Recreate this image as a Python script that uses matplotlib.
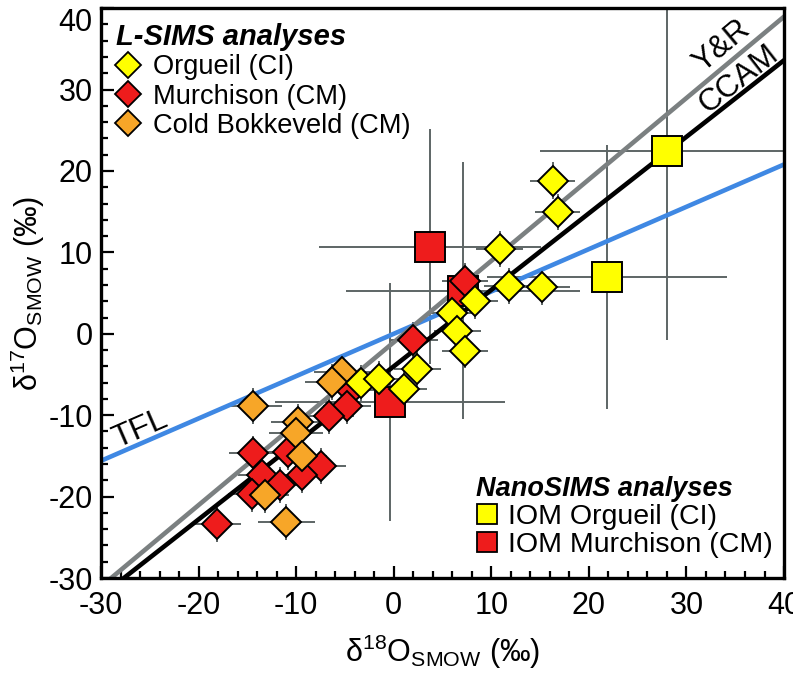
import matplotlib
matplotlib.use("Agg")
import matplotlib.pyplot as plt
from matplotlib.lines import Line2D
from matplotlib.ticker import MultipleLocator
import numpy as np

# ---- L-SIMS analyses (d18O, d17O, 1 sigma) ----
murch_x = [7.3, 2.0, -4.4, -4.8, -6.6, -14.4, -10.8, -7.5, -9.4, -13.5, -11.7, -14.5, -18.1]
murch_y = [6.5, -0.8, -6.9, -8.9, -10.1, -14.7, -14.5, -16.2, -17.4, -17.4, -18.6, -19.7, -23.4]
murch_xerr = [2.4, 2.5, 2.5, 2.5, 2.5, 2.5, 2.5, 2.6, 2.5, 2.5, 2.5, 2.5, 2.4]
murch_yerr = [2.2, 2.2, 2.2, 2.2, 2.2, 2.2, 2.2, 2.2, 2.2, 2.2, 2.2, 2.2, 2.2]

cold_x = [-5.3, -6.3, -14.4, -9.8, -10.0, -9.4, -13.2, -11.0]
cold_y = [-4.7, -5.9, -8.9, -10.8, -12.2, -15.0, -19.8, -23.1]
cold_xerr = [2.9, 2.8, 2.9, 2.8, 2.8, 2.6, 2.5, 2.9]
cold_yerr = [2.2, 2.2, 2.2, 2.2, 2.2, 2.2, 2.2, 2.2]

org_x = [16.3, 16.8, 10.85, 11.8, 15.2, 6.0, 8.3, 6.5, 7.3, 2.4, -3.4, -1.56, 1.0]
org_y = [18.8, 15.0, 10.4, 5.9, 5.7, 2.6, 4.0, 0.4, -2.06, -4.3, -6.0, -5.5, -6.75]
org_xerr = [2.3, 2.3, 2.4, 2.5, 2.9, 2.4, 2.4, 2.4, 2.4, 2.4, 2.4, 2.4, 2.4]
org_yerr = [2.25, 2.2, 2.2, 2.2, 2.2, 2.2, 2.2, 2.2, 2.2, 2.2, 2.2, 2.2, 2.2]

# ---- NanoSIMS analyses of IOM ----
iom_org_x = [28.0, 21.9]
iom_org_y = [22.4, 7.0]
iom_org_xerr = [13.0, 12.3]
iom_org_yerr = [23.2, 16.2]

iom_mur_x = [3.7, 7.1, -0.4]
iom_mur_y = [10.7, 5.3, -8.4]
iom_mur_xerr = [11.4, 12.0, 11.8]
iom_mur_yerr = [14.4, 15.8, 14.6]

# reference lines: slope, intercept
yr_line = (1.00, -1.04)
ccam_line = (0.94, -4.0)
tfl_line = (0.52, 0.0)

yellow = '#ffff00'
red = '#ee1c1c'
orange = '#f7a628'
bar_col = '#5d6565'

plt.rcParams['font.family'] = ['Liberation Sans', 'DejaVu Sans']
plt.rcParams['axes.unicode_minus'] = False
plt.rcParams['mathtext.fontset'] = 'custom'
plt.rcParams['mathtext.rm'] = 'Liberation Sans'
plt.rcParams['mathtext.it'] = 'Liberation Sans:italic'
plt.rcParams['mathtext.bf'] = 'Liberation Sans:bold'

tick_size = 22

fig = plt.figure(figsize=(7.93, 6.79), dpi=100)
ax = fig.add_axes([0.1274, 0.1487, 0.8613, 0.8393])

xs = np.array([-30, 40])
ax.plot(xs, tfl_line[0] * xs + tfl_line[1], color='#3f88e3', lw=3.3, zorder=2)
ax.plot(xs, yr_line[0] * xs + yr_line[1], color='#7b8081', lw=3.3, zorder=2)
ax.plot(xs, ccam_line[0] * xs + ccam_line[1], color='black', lw=3.3, zorder=2)

ebar = dict(fmt='none', ecolor=bar_col, elinewidth=1.4, capsize=0, zorder=1)
ax.errorbar(iom_org_x, iom_org_y, xerr=iom_org_xerr, yerr=iom_org_yerr, **ebar)
ax.errorbar(iom_mur_x, iom_mur_y, xerr=iom_mur_xerr, yerr=iom_mur_yerr, **ebar)
ax.errorbar(murch_x, murch_y, xerr=murch_xerr, yerr=murch_yerr, **ebar)
ax.errorbar(cold_x, cold_y, xerr=cold_xerr, yerr=cold_yerr, **ebar)
ax.errorbar(org_x, org_y, xerr=org_xerr, yerr=org_yerr, **ebar)

sq = dict(ls='none', marker='s', ms=21.5, mec='black', mew=1.4)
ax.plot(iom_org_x, iom_org_y, mfc=yellow, zorder=3, **sq)
ax.plot(iom_mur_x, iom_mur_y, mfc=red, zorder=3, **sq)

dm = dict(ls='none', marker='D', ms=15, mec='black', mew=1.4)
ax.plot(murch_x, murch_y, mfc=red, zorder=4, **dm)
ax.plot(cold_x, cold_y, mfc=orange, zorder=5, **dm)
ax.plot(org_x, org_y, mfc=yellow, zorder=6, **dm)

ax.text(33.6, 35.3, 'Y&R', rotation=40, fontsize=22.5, ha='center', va='center', zorder=7)
ax.text(35.4, 31.2, 'CCAM', rotation=38, fontsize=22.5, ha='center', va='center', zorder=7)
ax.text(-26.0, -11.7, 'TFL', rotation=23.5, fontsize=23, ha='center', va='center', zorder=7)

ax.set_xlim(-30, 40)
ax.set_ylim(-30, 40)
ax.xaxis.set_major_locator(MultipleLocator(10))
ax.xaxis.set_minor_locator(MultipleLocator(2))
ax.yaxis.set_major_locator(MultipleLocator(10))
ax.yaxis.set_minor_locator(MultipleLocator(2))
ax.tick_params(which='both', direction='in', top=False, right=False, width=1.6,
               labelsize=tick_size)
ax.tick_params(which='major', length=9)
ax.tick_params(which='minor', length=5)
ax.tick_params(axis='x', which='major', pad=9)
ax.tick_params(axis='y', which='major', pad=6)
for sp in ax.spines.values():
    sp.set_linewidth(2.4)

ax.set_xlabel('δ$^{18}$O$_{\\rm SMOW}$ (‰)', fontsize=tick_size, labelpad=9)
ax.set_ylabel('δ$^{17}$O$_{\\rm SMOW}$ (‰)', fontsize=tick_size, labelpad=1)

h1 = [Line2D([], [], ls='none', marker='D', ms=13, mfc=c, mec='black', mew=1.3)
      for c in (yellow, red, orange)]
leg1 = ax.legend(h1, ['Orgueil (CI)', 'Murchison (CM)', 'Cold Bokkeveld (CM)'],
                 title='L-SIMS analyses', loc='upper left', frameon=False,
                 title_fontproperties={'weight': 'bold', 'style': 'italic', 'size': 21},
                 fontsize=19.6, alignment='left', handlelength=0.9, handletextpad=0.45,
                 labelspacing=0.12, borderpad=0.1, borderaxespad=0.45)
leg1.set_zorder(8)
ax.add_artist(leg1)

h2 = [Line2D([], [], ls='none', marker='s', ms=14, mfc=c, mec='black', mew=1.3)
      for c in (yellow, red)]
leg2 = ax.legend(h2, ['IOM Orgueil (CI)', 'IOM Murchison (CM)'],
                 title='NanoSIMS analyses', loc='lower right', frameon=False,
                 bbox_to_anchor=(0.988, 0.03),
                 title_fontproperties={'weight': 'bold', 'style': 'italic', 'size': 19.5},
                 fontsize=20.5, alignment='left', handlelength=0.8, handletextpad=0.35,
                 labelspacing=0.08, borderpad=0.1, borderaxespad=0)
leg2.set_zorder(8)

# the top y tick label sits just under the frame, as in the original
fig.canvas.draw()
for tick in ax.yaxis.get_major_ticks():
    if abs(tick.get_loc() - 40) < 1e-6:
        tick.label1.set_verticalalignment('top')

fig.savefig('out.png', dpi=100)
